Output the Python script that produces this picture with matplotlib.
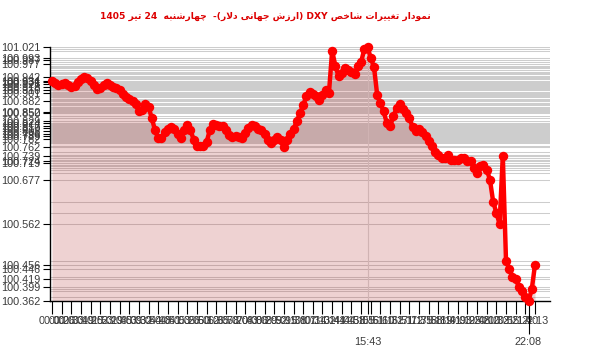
import re
import numpy as np
import matplotlib
matplotlib.use("Agg")
import matplotlib.pyplot as plt

# ---------------- data ----------------
title_text = "نمودار تغییرات شاخص DXY (ارزش جهانی دلار)-  چهارشنبه  24 تیر 1405"

values = [
    100.932, 100.927, 100.922, 100.925, 100.927, 100.922, 100.917, 100.919, 100.930, 100.938,
    100.943, 100.940, 100.932, 100.922, 100.912, 100.914, 100.922, 100.927, 100.922, 100.917,
    100.914, 100.909, 100.899, 100.891, 100.886, 100.880, 100.873, 100.854, 100.857, 100.873,
    100.865, 100.836, 100.805, 100.784, 100.784, 100.800, 100.807, 100.813, 100.807, 100.794,
    100.784, 100.805, 100.818, 100.805, 100.781, 100.763, 100.763, 100.763, 100.774, 100.805,
    100.820, 100.818, 100.815, 100.815, 100.805, 100.792, 100.787, 100.789, 100.787, 100.784,
    100.797, 100.810, 100.818, 100.815, 100.807, 100.805, 100.794, 100.779, 100.771, 100.781,
    100.787, 100.779, 100.761, 100.779, 100.794, 100.807, 100.828, 100.849, 100.870, 100.893,
    100.904, 100.899, 100.893, 100.883, 100.896, 100.909, 100.901, 101.011, 100.972, 100.945,
    100.953, 100.966, 100.961, 100.956, 100.951, 100.972, 100.982, 101.016, 101.021, 100.992,
    100.969, 100.896, 100.875, 100.854, 100.823, 100.815, 100.841, 100.862, 100.873, 100.860,
    100.849, 100.836, 100.813, 100.802, 100.807, 100.800, 100.789, 100.776, 100.763, 100.748,
    100.740, 100.732, 100.734, 100.742, 100.727, 100.727, 100.729, 100.732, 100.734, 100.724,
    100.724, 100.708, 100.695, 100.711, 100.716, 100.703, 100.677, 100.620, 100.591, 100.562,
    100.739, 100.466, 100.446, 100.425, 100.419, 100.399, 100.388, 100.372, 100.362, 100.393,
    100.456,
]

y_tick_values = [101.021, 100.993, 100.987, 100.977, 100.942, 100.934, 100.931, 100.925,
                 100.918, 100.910, 100.901, 100.882, 100.852, 100.850, 100.829, 100.824,
                 100.817, 100.810, 100.803, 100.796, 100.789, 100.782, 100.762, 100.739,
                 100.724, 100.719, 100.677, 100.562, 100.456, 100.446, 100.419, 100.399,
                 100.362]

x_tick_labels = ["00:00", "00:26", "00:33", "00:49", "01:25", "01:53", "02:19", "02:45",
                 "03:09", "03:32", "03:54", "04:18", "04:41", "05:03", "05:26", "05:50",
                 "06:12", "06:35", "06:58", "07:20", "07:43", "08:06", "08:29", "08:52",
                 "09:15", "09:38", "10:07", "10:34", "11:02", "13:44", "14:04", "14:38",
                 "15:05", "15:51", "16:10", "16:32", "16:51", "17:12", "17:35", "17:58",
                 "18:19", "18:41", "19:03", "19:25", "19:48", "20:10", "20:33", "20:55",
                 "21:17", "21:40", "22:13"]
x_tick_step = 3
special_ticks = [98, 148]
special_labels = ["15:43", "22:08"]

# ---------------- minimal Persian shaping + bidi ----------------
FORMS = {  # isolated, final, initial, medial
    'ا': ('\uFE8D', '\uFE8E', None, None),
    'ب': ('\uFE8F', '\uFE90', '\uFE91', '\uFE92'),
    'ت': ('\uFE95', '\uFE96', '\uFE97', '\uFE98'),
    'ج': ('\uFE9D', '\uFE9E', '\uFE9F', '\uFEA0'),
    'چ': ('\uFB7A', '\uFB7B', '\uFB7C', '\uFB7D'),
    'خ': ('\uFEA5', '\uFEA6', '\uFEA7', '\uFEA8'),
    'د': ('\uFEA9', '\uFEAA', None, None),
    'ر': ('\uFEAD', '\uFEAE', None, None),
    'ز': ('\uFEAF', '\uFEB0', None, None),
    'ش': ('\uFEB5', '\uFEB6', '\uFEB7', '\uFEB8'),
    'ص': ('\uFEB9', '\uFEBA', '\uFEBB', '\uFEBC'),
    'غ': ('\uFECD', '\uFECE', '\uFECF', '\uFED0'),
    'ل': ('\uFEDD', '\uFEDE', '\uFEDF', '\uFEE0'),
    'م': ('\uFEE1', '\uFEE2', '\uFEE3', '\uFEE4'),
    'ن': ('\uFEE5', '\uFEE6', '\uFEE7', '\uFEE8'),
    'ه': ('\uFEE9', '\uFEEA', '\uFEEB', '\uFEEC'),
    'و': ('\uFEED', '\uFEEE', None, None),
    'ی': ('\uFBFC', '\uFBFD', '\uFBFE', '\uFBFF'),
}


def shape_word(word):
    chars = list(word)
    out = []
    i = 0
    while i < len(chars):
        c = chars[i]
        prev = chars[i - 1] if i > 0 else None
        joins_prev = prev is not None and prev in FORMS and FORMS[prev][2] is not None
        if c == 'ل' and i + 1 < len(chars) and chars[i + 1] == 'ا':
            out.append('\uFEFC' if joins_prev else '\uFEFB')
            i += 2
            continue
        if c not in FORMS:
            out.append(c)
            i += 1
            continue
        iso, fin, ini, med = FORMS[c]
        nxt = chars[i + 1] if i + 1 < len(chars) else None
        joins_next = ini is not None and nxt is not None and nxt in FORMS
        if joins_prev and joins_next:
            out.append(med)
        elif joins_prev:
            out.append(fin)
        elif joins_next:
            out.append(ini)
        else:
            out.append(iso)
        i += 1
    return ''.join(reversed(out))


def visual_rtl(text):
    tokens = re.findall(r'[\u0600-\u06FF]+|[A-Za-z0-9]+|\s+|.', text)
    mirror = {'(': ')', ')': '('}
    res = []
    for t in reversed(tokens):
        if re.match(r'[\u0600-\u06FF]', t):
            res.append(shape_word(t))
        else:
            res.append(mirror.get(t, t))
    return ''.join(res)


# ---------------- plot ----------------
W, H = 600, 352
fig = plt.figure(figsize=(W / 100, H / 100), dpi=100)
ax_left, ax_right, ax_top, ax_bottom = 50, 550, 47, 301
ax = fig.add_axes([ax_left / W, 1 - ax_bottom / H, (ax_right - ax_left) / W, (ax_bottom - ax_top) / H])

n = len(values)
x = np.arange(n)
ppi = (535 - 52) / (n - 1)
ax.set_xlim(-(52 - ax_left) / ppi, (n - 1) + (ax_right - 535) / ppi)
ymin, ymax = min(values), max(values)
ax.set_ylim(ymin, ymax)

grid_vals = sorted(set(values) | set(y_tick_values))
ax.hlines(grid_vals, *ax.get_xlim(), colors='#cdcdcd', linewidth=0.75, zorder=1)
ax.axvline(special_ticks[0], color='#d8d8d8', linewidth=0.8, zorder=1)

ax.fill_between(x, values, ymin, color='#b43232', alpha=0.22, linewidth=0, zorder=2)
ax.plot(x, values, color='#ff0000', linewidth=3.2, marker='o', markersize=6.8,
        markeredgewidth=0, zorder=3, clip_on=False)

for s in ['top', 'right']:
    ax.spines[s].set_visible(False)
for s in ['left', 'bottom']:
    ax.spines[s].set_color('black')
    ax.spines[s].set_linewidth(1.0)

ax.set_yticks(y_tick_values)
ax.set_yticklabels([f"{v:.3f}" for v in y_tick_values])
ax.tick_params(axis='y', length=5, width=0.8, color='black', labelsize=7.8,
               labelcolor='#3a3a3a', pad=2)
for lab in ax.get_yticklabels():
    lab.set_fontfamily('Liberation Sans')

xt = list(range(0, n, x_tick_step))
ax.set_xticks(xt)
ax.set_xticklabels(x_tick_labels[:len(xt)])
ax.tick_params(axis='x', which='major', length=9, width=0.8, color='black',
               labelsize=7.8, labelcolor='#3a3a3a', pad=2)
ax.set_xticks(special_ticks, minor=True)
ax.set_xticklabels(special_labels, minor=True)
ax.tick_params(axis='x', which='minor', length=24, width=0.8, color='black',
               labelsize=7.8, labelcolor='#3a3a3a', pad=2)
mticks = ax.xaxis.get_minor_ticks()
mticks[0].tick1line.set_markersize(9)
for lab in ax.get_xticklabels() + ax.get_xticklabels(minor=True):
    lab.set_fontfamily('Liberation Sans')

fig.text(265 / W, 1 - 16 / H, visual_rtl(title_text), ha='center', va='center',
         color='#dd0000', fontsize=6.6, fontweight='bold', family=['DejaVu Sans'])

fig.savefig('out.png', dpi=100)
